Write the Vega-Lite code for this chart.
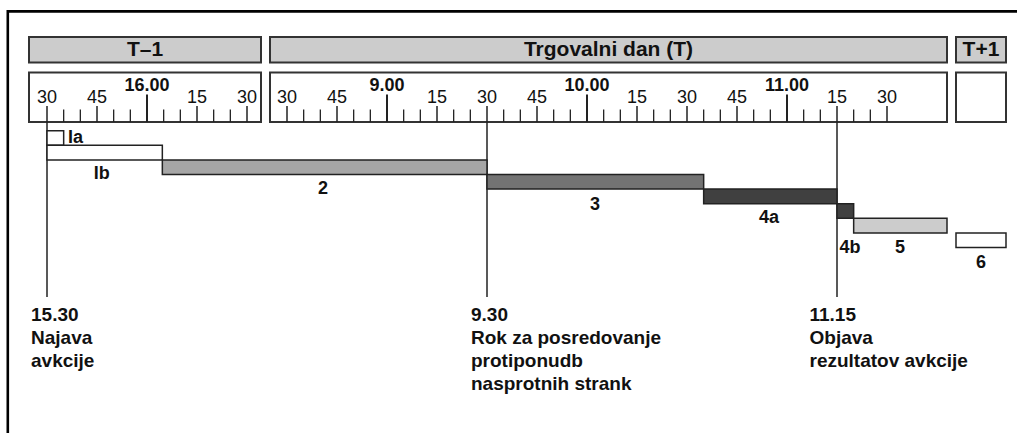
{
  "$schema": "https://vega.github.io/schema/vega-lite/v6.json",
  "autosize": {"type": "fit", "contains": "padding"},
  "width": 1017,
  "height": 433,
  "padding": 0,
  "background": "white",
  "config": {"view": {"stroke": null}, "font": "Liberation Sans"},
  "datasets": {
    "days": [
      {"day": "T–1", "t": -5.4, "t2": 64.2, "tc": 29.4},
      {"day": "Trgovalni dan (T)", "t": 66.9, "t2": 270, "tc": 168.45},
      {"day": "T+1", "t": 272.7, "t2": 287.7, "tc": 280.2}
    ],
    "ticks": [
      {"t": 0, "kind": "quarter", "label": "30"},
      {"t": 5, "kind": "minor", "label": ""},
      {"t": 10, "kind": "minor", "label": ""},
      {"t": 15, "kind": "quarter", "label": "45"},
      {"t": 20, "kind": "minor", "label": ""},
      {"t": 25, "kind": "minor", "label": ""},
      {"t": 30, "kind": "hour", "label": "16.00"},
      {"t": 35, "kind": "minor", "label": ""},
      {"t": 40, "kind": "minor", "label": ""},
      {"t": 45, "kind": "quarter", "label": "15"},
      {"t": 50, "kind": "minor", "label": ""},
      {"t": 55, "kind": "minor", "label": ""},
      {"t": 60, "kind": "quarter", "label": "30"},
      {"t": 72, "kind": "quarter", "label": "30"},
      {"t": 77, "kind": "minor", "label": ""},
      {"t": 82, "kind": "minor", "label": ""},
      {"t": 87, "kind": "quarter", "label": "45"},
      {"t": 92, "kind": "minor", "label": ""},
      {"t": 97, "kind": "minor", "label": ""},
      {"t": 102, "kind": "hour", "label": "9.00"},
      {"t": 107, "kind": "minor", "label": ""},
      {"t": 112, "kind": "minor", "label": ""},
      {"t": 117, "kind": "quarter", "label": "15"},
      {"t": 122, "kind": "minor", "label": ""},
      {"t": 127, "kind": "minor", "label": ""},
      {"t": 132, "kind": "quarter", "label": "30"},
      {"t": 137, "kind": "minor", "label": ""},
      {"t": 142, "kind": "minor", "label": ""},
      {"t": 147, "kind": "quarter", "label": "45"},
      {"t": 152, "kind": "minor", "label": ""},
      {"t": 157, "kind": "minor", "label": ""},
      {"t": 162, "kind": "hour", "label": "10.00"},
      {"t": 167, "kind": "minor", "label": ""},
      {"t": 172, "kind": "minor", "label": ""},
      {"t": 177, "kind": "quarter", "label": "15"},
      {"t": 182, "kind": "minor", "label": ""},
      {"t": 187, "kind": "minor", "label": ""},
      {"t": 192, "kind": "quarter", "label": "30"},
      {"t": 197, "kind": "minor", "label": ""},
      {"t": 202, "kind": "minor", "label": ""},
      {"t": 207, "kind": "quarter", "label": "45"},
      {"t": 212, "kind": "minor", "label": ""},
      {"t": 217, "kind": "minor", "label": ""},
      {"t": 222, "kind": "hour", "label": "11.00"},
      {"t": 227, "kind": "minor", "label": ""},
      {"t": 232, "kind": "minor", "label": ""},
      {"t": 237, "kind": "quarter", "label": "15"},
      {"t": 242, "kind": "minor", "label": ""},
      {"t": 247, "kind": "minor", "label": ""},
      {"t": 252, "kind": "quarter", "label": "30"}
    ],
    "phases": [
      {"phase": "Ia", "t": 0, "t2": 5, "lane": 0, "lane2": 1, "lx": 8.55, "ly": 0.822},
      {"phase": "Ib", "t": 0, "t2": 34.6, "lane": 1, "lane2": 2, "lx": 16.4, "ly": 3.329},
      {"phase": "2", "t": 34.6, "t2": 132, "lane": 2, "lane2": 3, "lx": 82.8, "ly": 4.336},
      {"phase": "3", "t": 132, "t2": 197, "lane": 3, "lane2": 4, "lx": 164.4, "ly": 5.411},
      {"phase": "4a", "t": 197, "t2": 237, "lane": 4, "lane2": 5, "lx": 216.6, "ly": 6.322},
      {"phase": "4b", "t": 237, "t2": 242, "lane": 5, "lane2": 6, "lx": 240.9, "ly": 8.377},
      {"phase": "5", "t": 242, "t2": 270, "lane": 6, "lane2": 7, "lx": 255.9, "ly": 8.377},
      {"phase": "6", "t": 272.7, "t2": 287.7, "lane": 7, "lane2": 8, "lx": 280.2, "ly": 9.404}
    ],
    "events": [
      {"t": 0},
      {"t": 132},
      {"t": 237}
    ],
    "notes": [
      {"t": -4.8, "lane": 13.034, "text": "15.30"},
      {"t": -4.8, "lane": 14.61, "text": "Najava"},
      {"t": -4.8, "lane": 16.185, "text": "avkcije"},
      {"t": 127.2, "lane": 13.034, "text": "9.30"},
      {"t": 127.2, "lane": 14.61, "text": "Rok za posredovanje"},
      {"t": 127.2, "lane": 16.185, "text": "protiponudb"},
      {"t": 127.2, "lane": 17.76, "text": "nasprotnih strank"},
      {"t": 228.75, "lane": 13.034, "text": "11.15"},
      {"t": 228.75, "lane": 14.61, "text": "Objava"},
      {"t": 228.75, "lane": 16.185, "text": "rezultatov avkcije"}
    ],
    "frame": [
      {"t": -11.76, "t2": 300, "lane": -8.17, "lane2": 40}
    ]
  },
  "layer": [
    {
      "data": {"name": "frame"},
      "mark": {"type": "rect", "fill": "transparent", "stroke": "#000000", "strokeWidth": 2.6, "clip": true},
      "encoding": {
        "x": {"field": "t", "type": "quantitative", "scale": {"domain": [-14.1, 291], "nice": false, "zero": false}, "axis": null},
        "x2": {"field": "t2"},
        "y": {"field": "lane", "type": "quantitative", "scale": {"domain": [-8.952, 20.705], "nice": false, "zero": false, "reverse": true}, "axis": null},
        "y2": {"field": "lane2"}
      }
    },
    {
      "data": {"name": "days"},
      "mark": {"type": "rect", "fill": "#cccccc", "stroke": "#333333", "strokeWidth": 2},
      "encoding": {
        "x": {"field": "t", "type": "quantitative", "scale": {"domain": [-14.1, 291], "nice": false, "zero": false}, "axis": null},
        "x2": {"field": "t2"},
        "y": {"datum": -6.418, "type": "quantitative", "scale": {"domain": [-8.952, 20.705], "nice": false, "zero": false, "reverse": true}, "axis": null},
        "y2": {"datum": -4.671}
      }
    },
    {
      "data": {"name": "days"},
      "mark": {"type": "rect", "fill": "#ffffff", "stroke": "#333333", "strokeWidth": 2},
      "encoding": {
        "x": {"field": "t", "type": "quantitative", "scale": {"domain": [-14.1, 291], "nice": false, "zero": false}, "axis": null},
        "x2": {"field": "t2"},
        "y": {"datum": -3.986, "type": "quantitative", "scale": {"domain": [-8.952, 20.705], "nice": false, "zero": false, "reverse": true}, "axis": null},
        "y2": {"datum": -0.596}
      }
    },
    {
      "data": {"name": "days"},
      "mark": {"type": "text", "font": "Liberation Sans", "fontWeight": "bold", "fontSize": 21, "align": "center", "baseline": "alphabetic", "color": "#111111"},
      "encoding": {
        "x": {"field": "tc", "type": "quantitative", "scale": {"domain": [-14.1, 291], "nice": false, "zero": false}, "axis": null},
        "y": {"datum": -5.11, "type": "quantitative", "scale": {"domain": [-8.952, 20.705], "nice": false, "zero": false, "reverse": true}, "axis": null},
        "text": {"field": "day", "type": "nominal"}
      }
    },
    {
      "data": {"name": "ticks"},
      "transform": [{"filter": "datum.kind === 'minor'"}],
      "mark": {"type": "rule", "color": "#222222", "strokeWidth": 1.3},
      "encoding": {
        "x": {"field": "t", "type": "quantitative", "scale": {"domain": [-14.1, 291], "nice": false, "zero": false}, "axis": null},
        "y": {"datum": -1.452, "type": "quantitative", "scale": {"domain": [-8.952, 20.705], "nice": false, "zero": false, "reverse": true}, "axis": null},
        "y2": {"datum": -0.596}
      }
    },
    {
      "data": {"name": "ticks"},
      "transform": [{"filter": "datum.kind === 'quarter'"}],
      "mark": {"type": "rule", "color": "#222222", "strokeWidth": 1.5},
      "encoding": {
        "x": {"field": "t", "type": "quantitative", "scale": {"domain": [-14.1, 291], "nice": false, "zero": false}, "axis": null},
        "y": {"datum": -1.692, "type": "quantitative", "scale": {"domain": [-8.952, 20.705], "nice": false, "zero": false, "reverse": true}, "axis": null},
        "y2": {"datum": -0.596}
      }
    },
    {
      "data": {"name": "ticks"},
      "transform": [{"filter": "datum.kind === 'hour'"}],
      "mark": {"type": "rule", "color": "#222222", "strokeWidth": 2},
      "encoding": {
        "x": {"field": "t", "type": "quantitative", "scale": {"domain": [-14.1, 291], "nice": false, "zero": false}, "axis": null},
        "y": {"datum": -2.479, "type": "quantitative", "scale": {"domain": [-8.952, 20.705], "nice": false, "zero": false, "reverse": true}, "axis": null},
        "y2": {"datum": -0.596}
      }
    },
    {
      "data": {"name": "ticks"},
      "transform": [{"filter": "datum.kind === 'quarter'"}],
      "mark": {"type": "text", "font": "Liberation Sans", "fontSize": 18, "align": "center", "baseline": "alphabetic", "color": "#111111"},
      "encoding": {
        "x": {"field": "t", "type": "quantitative", "scale": {"domain": [-14.1, 291], "nice": false, "zero": false}, "axis": null},
        "y": {"datum": -1.877, "type": "quantitative", "scale": {"domain": [-8.952, 20.705], "nice": false, "zero": false, "reverse": true}, "axis": null},
        "text": {"field": "label", "type": "nominal"}
      }
    },
    {
      "data": {"name": "ticks"},
      "transform": [{"filter": "datum.kind === 'hour'"}],
      "mark": {"type": "text", "font": "Liberation Sans", "fontWeight": "bold", "fontSize": 18, "align": "center", "baseline": "alphabetic", "color": "#111111"},
      "encoding": {
        "x": {"field": "t", "type": "quantitative", "scale": {"domain": [-14.1, 291], "nice": false, "zero": false}, "axis": null},
        "y": {"datum": -2.74, "type": "quantitative", "scale": {"domain": [-8.952, 20.705], "nice": false, "zero": false, "reverse": true}, "axis": null},
        "text": {"field": "label", "type": "nominal"}
      }
    },
    {
      "data": {"name": "events"},
      "mark": {"type": "rule", "color": "#222222", "strokeWidth": 1.5},
      "encoding": {
        "x": {"field": "t", "type": "quantitative", "scale": {"domain": [-14.1, 291], "nice": false, "zero": false}, "axis": null},
        "y": {"datum": -0.596, "type": "quantitative", "scale": {"domain": [-8.952, 20.705], "nice": false, "zero": false, "reverse": true}, "axis": null},
        "y2": {"datum": 11.39}
      }
    },
    {
      "data": {"name": "phases"},
      "mark": {"type": "rect", "stroke": "#222222", "strokeWidth": 1.5},
      "encoding": {
        "x": {"field": "t", "type": "quantitative", "scale": {"domain": [-14.1, 291], "nice": false, "zero": false}, "axis": null},
        "x2": {"field": "t2"},
        "y": {"field": "lane", "type": "quantitative", "scale": {"domain": [-8.952, 20.705], "nice": false, "zero": false, "reverse": true}, "axis": null},
        "y2": {"field": "lane2"},
        "color": {"field": "phase", "type": "nominal", "scale": {"domain": ["Ia", "Ib", "2", "3", "4a", "4b", "5", "6"], "range": ["#ffffff", "#ffffff", "#a6a6a6", "#737373", "#404040", "#404040", "#cccccc", "#ffffff"]}, "legend": null}
      }
    },
    {
      "data": {"name": "phases"},
      "mark": {"type": "text", "font": "Liberation Sans", "fontWeight": "bold", "fontSize": 18, "align": "center", "baseline": "alphabetic", "color": "#111111"},
      "encoding": {
        "x": {"field": "lx", "type": "quantitative", "scale": {"domain": [-14.1, 291], "nice": false, "zero": false}, "axis": null},
        "y": {"field": "ly", "type": "quantitative", "scale": {"domain": [-8.952, 20.705], "nice": false, "zero": false, "reverse": true}, "axis": null},
        "text": {"field": "phase", "type": "nominal"}
      }
    },
    {
      "data": {"name": "notes"},
      "mark": {"type": "text", "font": "Liberation Sans", "fontWeight": "bold", "fontSize": 19, "align": "left", "baseline": "alphabetic", "color": "#111111"},
      "encoding": {
        "x": {"field": "t", "type": "quantitative", "scale": {"domain": [-14.1, 291], "nice": false, "zero": false}, "axis": null},
        "y": {"field": "lane", "type": "quantitative", "scale": {"domain": [-8.952, 20.705], "nice": false, "zero": false, "reverse": true}, "axis": null},
        "text": {"field": "text", "type": "nominal"}
      }
    }
  ]
}
